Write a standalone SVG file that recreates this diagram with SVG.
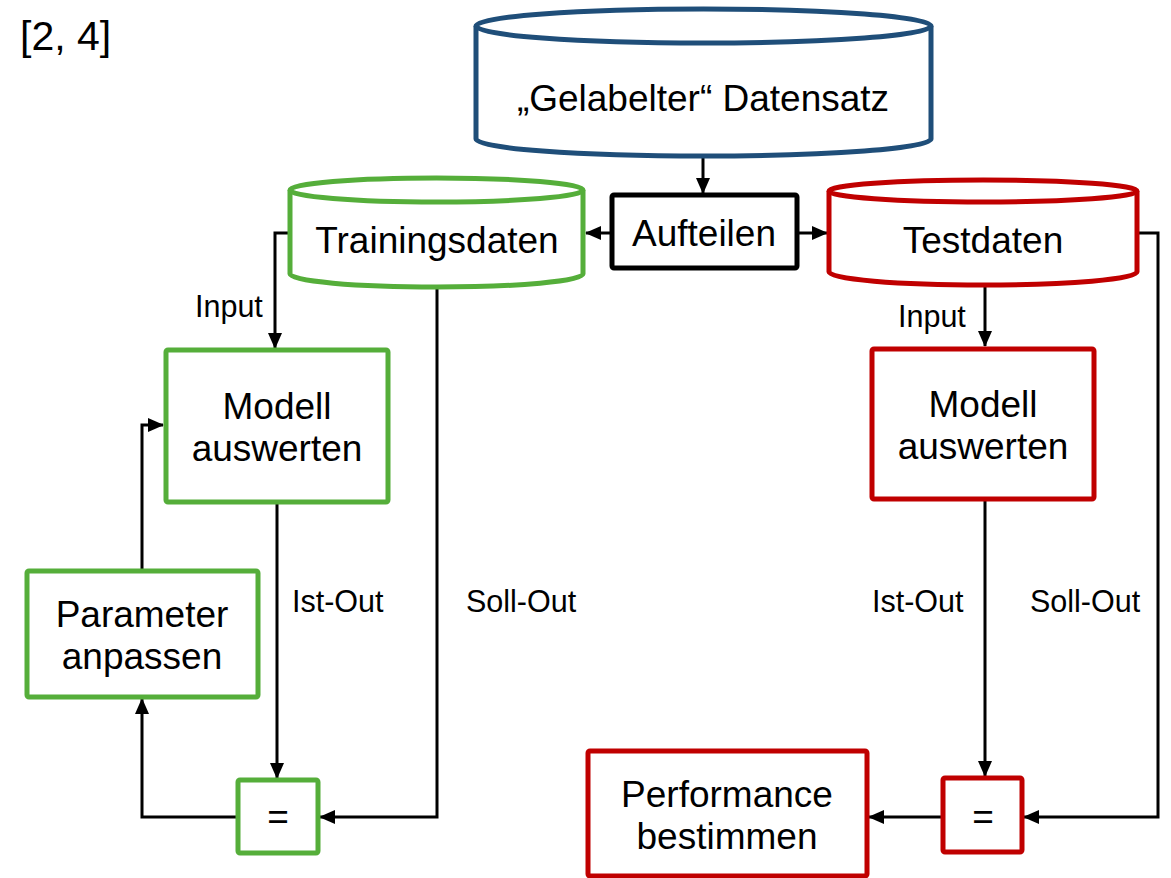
<svg xmlns="http://www.w3.org/2000/svg" width="1171" height="878" viewBox="0 0 1171 878">
<defs>
<marker id="ah" markerUnits="userSpaceOnUse" markerWidth="16" markerHeight="14" refX="15" refY="7" orient="auto">
<path d="M0,0 L16,7 L0,14 Z" fill="#000"/>
</marker>
<style>
text{font-family:"Liberation Sans",Arial,sans-serif;fill:#000}
.big{font-size:37px;text-anchor:middle}
.lbl{font-size:30.5px}
.g{fill:#fff;stroke:#55AE3A;stroke-width:5}
.r{fill:#fff;stroke:#C00000;stroke-width:5}
.b{fill:#fff;stroke:#1F4E79;stroke-width:5}
.k{fill:#fff;stroke:#000;stroke-width:5}
.c{fill:none;stroke:#000;stroke-width:3;marker-end:url(#ah)}
</style>
</defs>
<rect width="1171" height="878" fill="#fff"/>
<text x="20" y="50" font-size="41" font-family="Liberation Sans, Arial, sans-serif">[2, 4]</text>

<g id="connectors">
<path class="c" d="M703,157 V193"/>
<path class="c" d="M612,233 H586"/>
<path class="c" d="M797,233 H827"/>
<path class="c" d="M289,233 H275 V348"/>
<path class="c" d="M437,288 V817 H320"/>
<path class="c" d="M277,502 V778"/>
<path class="c" d="M238,817 H142 V699"/>
<path class="c" d="M142,570 V425 H163"/>
<path class="c" d="M985,286 V346"/>
<path class="c" d="M985,499 V776"/>
<path class="c" d="M1137,233 H1158 V817 H1024"/>
<path class="c" d="M943,817 H869"/>
</g>

<g id="labels">
<text class="lbl" x="195" y="317">Input</text>
<text class="lbl" x="898" y="327">Input</text>
<text class="lbl" x="292" y="612">Ist-Out</text>
<text class="lbl" x="466" y="612">Soll-Out</text>
<text class="lbl" x="872" y="612">Ist-Out</text>
<text class="lbl" x="1030" y="612">Soll-Out</text>
</g>

<g id="datensatz">
<path class="b" d="M476,26 V139 A227.5,17 0 0 0 931,139 V26"/>
<ellipse class="b" cx="703.5" cy="26" rx="227.5" ry="17"/>
<text class="big" x="703" y="111">„Gelabelter“ Datensatz</text>
</g>

<g id="aufteilen">
<rect class="k" x="612" y="195" width="185" height="73" rx="2"/>
<text class="big" x="704" y="246">Aufteilen</text>
</g>

<g id="trainingsdaten">
<path class="g" d="M290,190 V274 A146.5,13 0 0 0 583,274 V190"/>
<ellipse class="g" cx="436.5" cy="190" rx="146.5" ry="12"/>
<text class="big" x="437" y="253">Trainingsdaten</text>
</g>

<g id="testdaten">
<path class="r" d="M829,191 V272 A154,13 0 0 0 1137,272 V191"/>
<ellipse class="r" cx="983" cy="191" rx="154" ry="11"/>
<text class="big" x="983" y="253">Testdaten</text>
</g>

<g id="modell-train">
<rect class="g" x="166" y="350" width="222" height="152" rx="2"/>
<text class="big" x="277" y="419">Modell</text>
<text class="big" x="277" y="461">auswerten</text>
</g>

<g id="parameter">
<rect class="g" x="27" y="571" width="231" height="126" rx="2"/>
<text class="big" x="142" y="627">Parameter</text>
<text class="big" x="142" y="669">anpassen</text>
</g>

<g id="eq-train">
<rect class="g" x="238" y="780" width="80" height="73" rx="2"/>
<text class="big" x="278" y="829">=</text>
</g>

<g id="modell-test">
<rect class="r" x="872" y="349" width="222" height="150" rx="2"/>
<text class="big" x="983" y="417">Modell</text>
<text class="big" x="983" y="459">auswerten</text>
</g>

<g id="eq-test">
<rect class="r" x="943" y="778" width="79" height="74" rx="2"/>
<text class="big" x="983" y="829">=</text>
</g>

<g id="performance">
<rect class="r" x="588" y="751" width="279" height="125" rx="2"/>
<text class="big" x="727" y="807">Performance</text>
<text class="big" x="727" y="849">bestimmen</text>
</g>
</svg>
